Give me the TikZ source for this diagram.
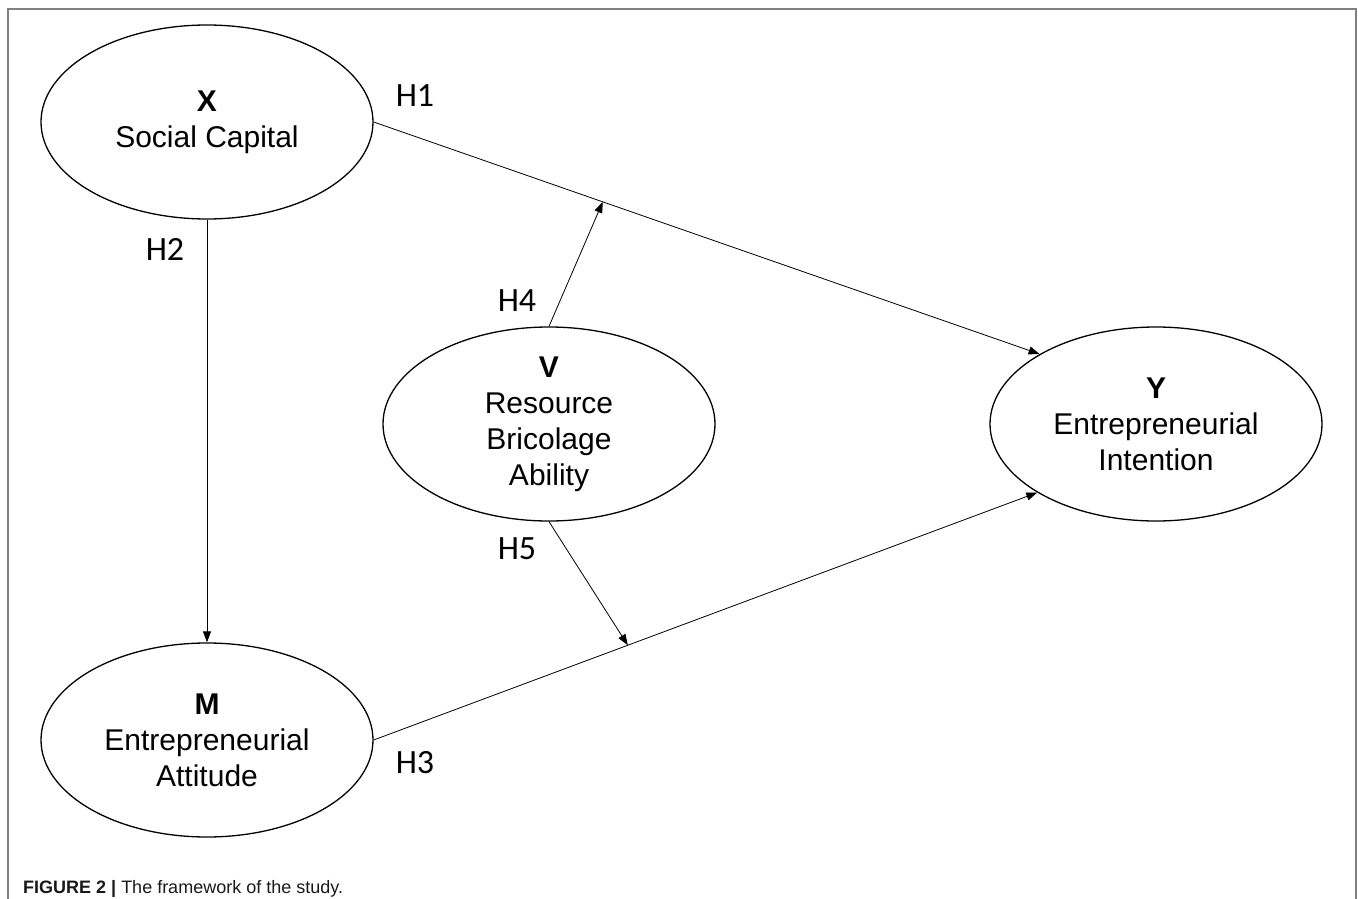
\documentclass[tikz,border=0pt]{standalone}
\usepackage{fontspec}
\setmainfont{Liberation Sans}
\newfontfamily\hypfont{Carlito}
\usetikzlibrary{shapes.geometric,arrows.meta,calc}
\tikzset{
  construct/.style={draw,ellipse,line width=1.3pt,minimum width=332pt,minimum height=194pt,inner sep=0pt,align=center,font=\fontsize{30}{36}\selectfont},
  hyp/.style={font=\hypfont\fontsize{34}{34}\selectfont,inner sep=0pt},
  path/.style={line width=0.8pt,-{Triangle[length=11pt,width=8pt]}}
}
\begin{document}
\begin{tikzpicture}[x=1pt,y=-1pt]
            \useasboundingbox (0,0) rectangle (1358,899);
            % Frame
            \draw [gray,line width=1.5pt] (8,899)--(8,9)--(1356,9)--(1356,899);

            % Constructs
            \node [construct] (X) at(207,122) {\textbf{X}\\Social Capital};
            \node [construct] (M) at(207,740) {\textbf{M}\\Entrepreneurial\\Attitude};
            \node [construct] (V) at(549,424) {\textbf{V}\\Resource\\Bricolage\\Ability};
            \node [construct] (Y) at(1156,424) {\textbf{Y}\\Entrepreneurial\\Intention};

            % Paths
            \draw [path] (X.east)--(Y.149);
            \draw [path] (X.south)--(M.north);
            \draw [path] (M.east)--(Y.210);
            \coordinate (m1) at ($(X.east)!0.344!(Y.149)$);
            \coordinate (m2) at ($(M.east)!0.383!(Y.210)$);
            \draw [path] (V.north)--(m1);
            \draw [path] (V.south)--(m2);

            % Hypotheses
            \node [hyp] (h1) at(415,96) {H1};
            \node [hyp] (h2) at(165,249) {H2};
            \node [hyp] (h3) at(415,763) {H3};
            \node [hyp] (h4) at(517,301) {H4};
            \node [hyp] (h5) at(517,549) {H5};

            \node [anchor=base west,inner sep=0pt,font=\fontsize{18}{18}\selectfont,text=black!90] (cap) at(23,893) {\textbf{FIGURE 2 |} The framework of the study.};
        \end{tikzpicture}
\end{document}
